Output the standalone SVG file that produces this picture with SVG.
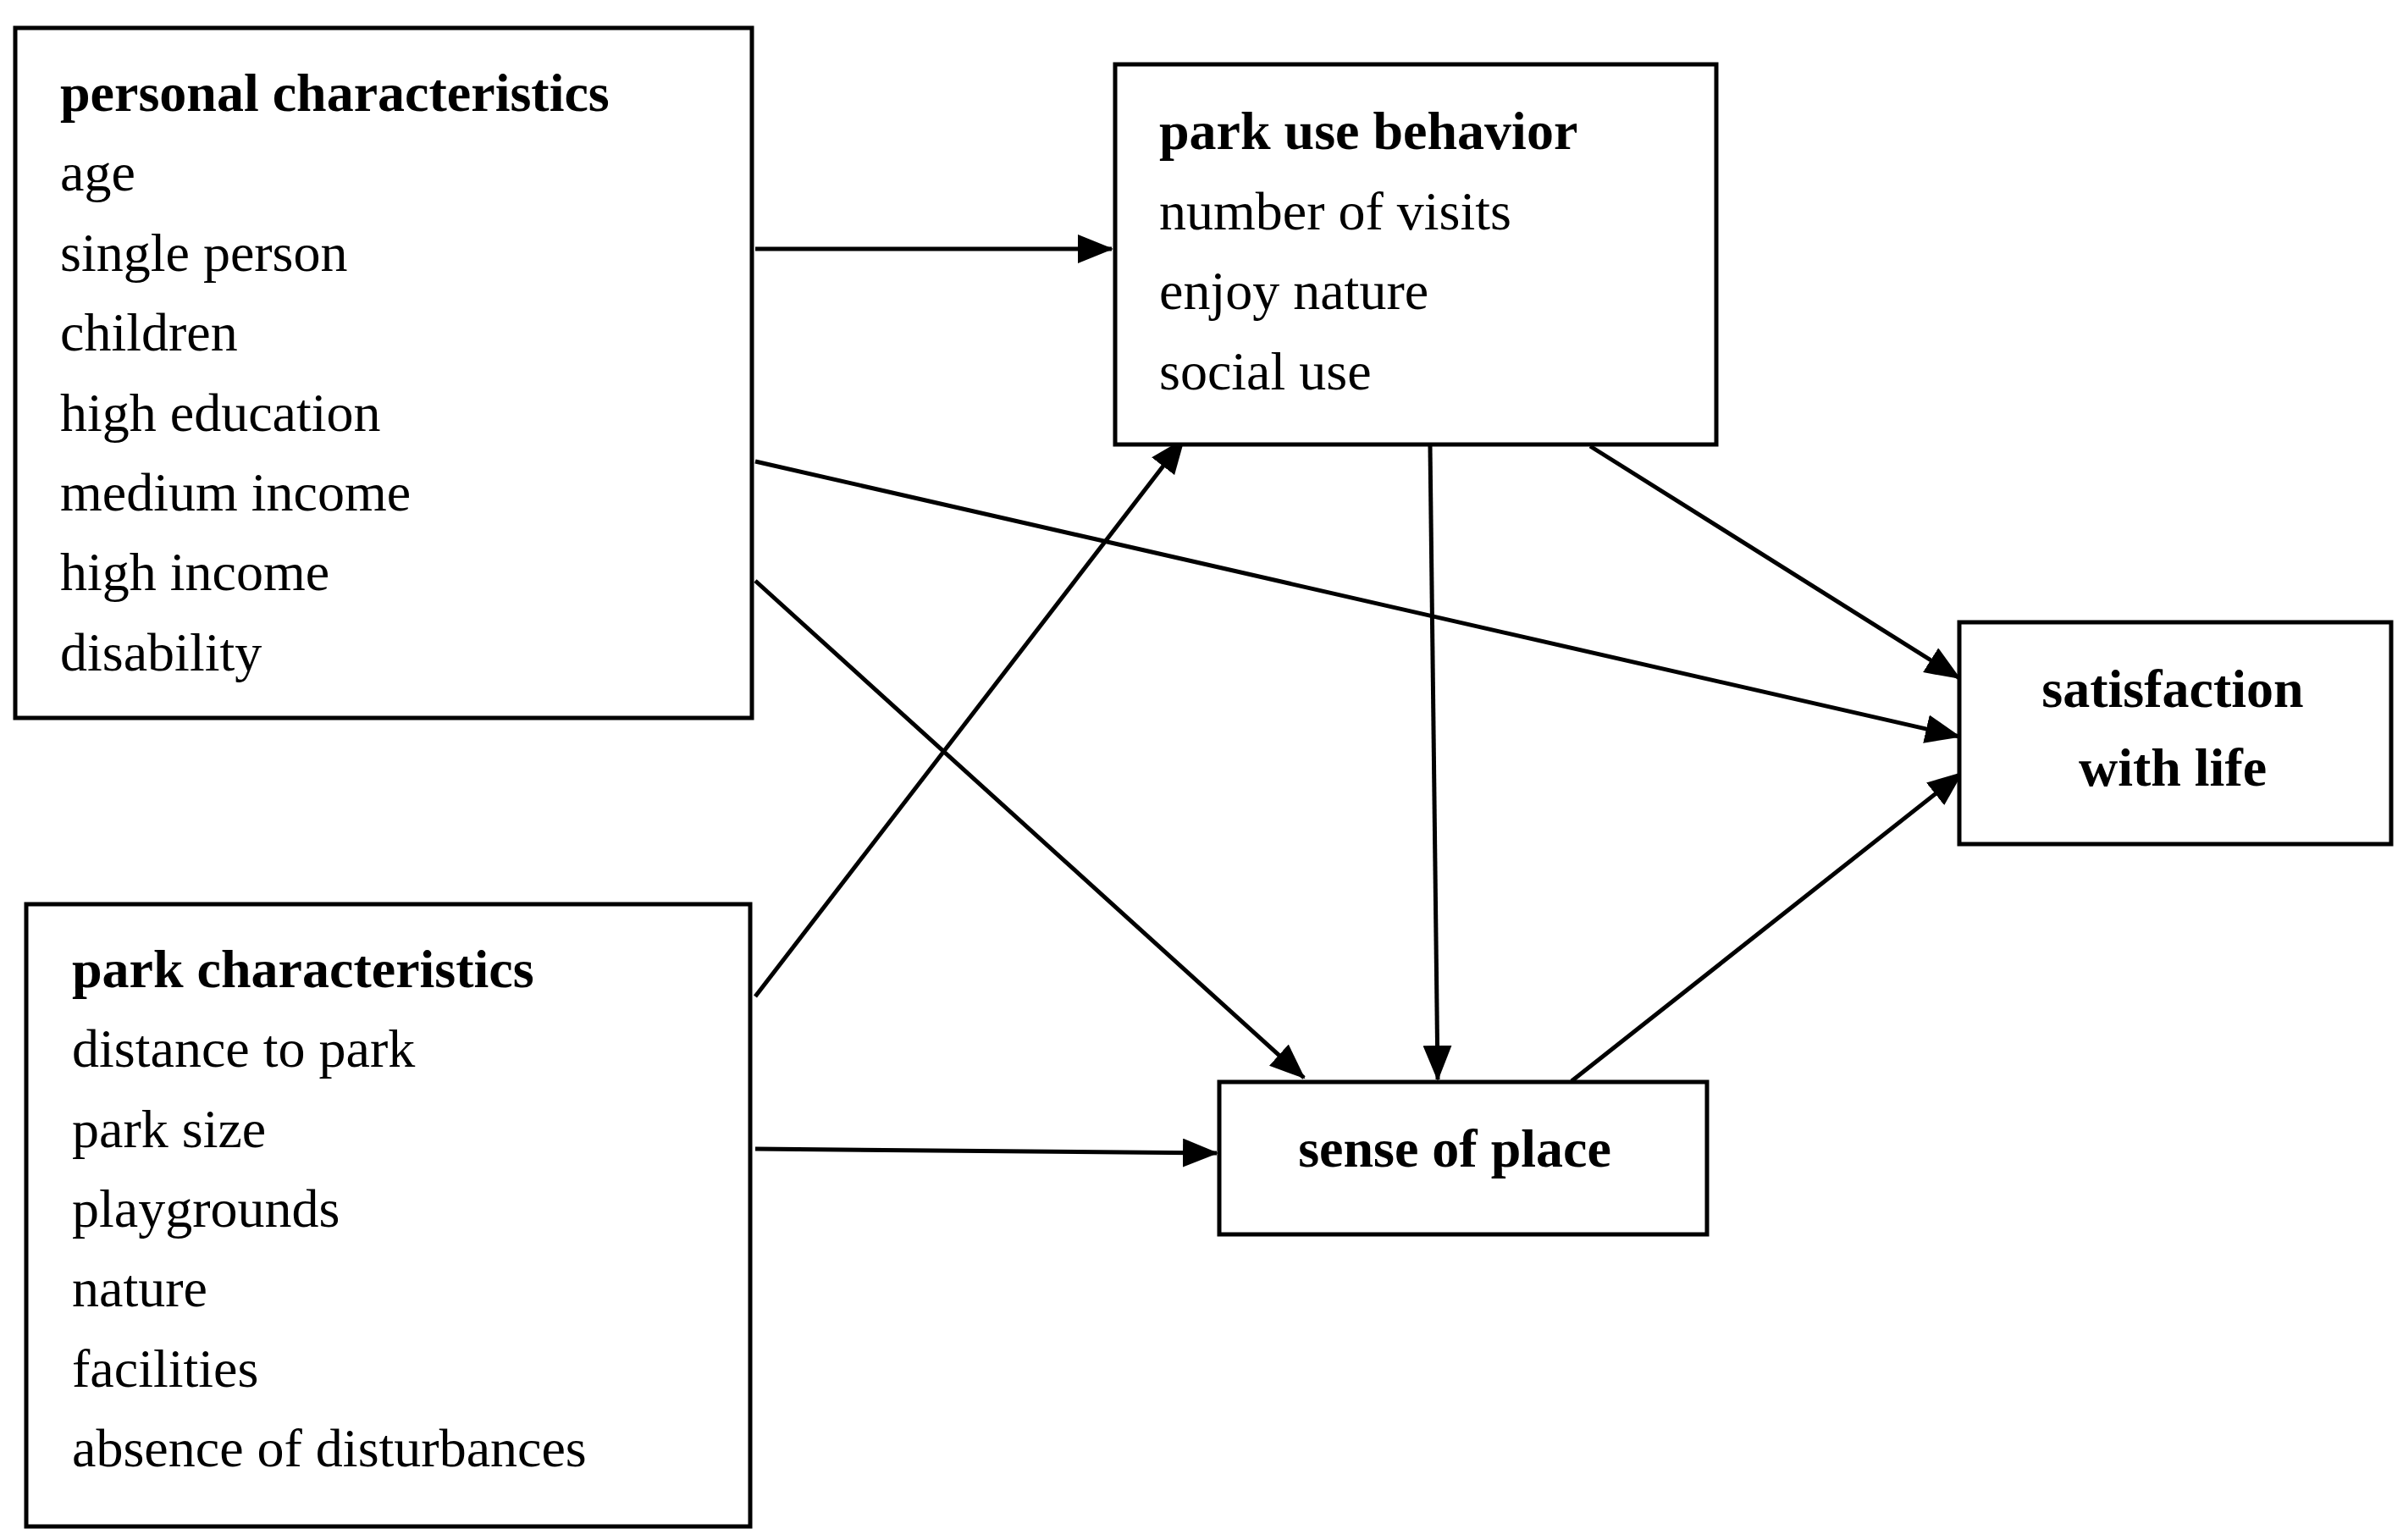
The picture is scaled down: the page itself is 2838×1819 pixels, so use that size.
<svg xmlns="http://www.w3.org/2000/svg" width="2838" height="1819" viewBox="0 0 2838 1819">
<style>
rect{fill:#fff;stroke:#000;stroke-width:5}
text{font-family:"Liberation Serif","DejaVu Serif",serif;font-size:64px;fill:#000}
.b{font-weight:bold}
.c{text-anchor:middle}
line{stroke:#000;stroke-width:5;marker-end:url(#a)}
</style>
<defs><marker id="a" markerUnits="userSpaceOnUse" markerWidth="44" markerHeight="34" refX="40" refY="17" orient="auto"><path d="M0,0 L42,17 L0,34 Z" fill="#000"/></marker></defs>
<rect width="2838" height="1819" style="stroke:none"/>
<g id="connectors">
<line x1="892" y1="294" x2="1313" y2="294"/>
<line x1="892" y1="545" x2="2314" y2="870"/>
<line x1="892" y1="686" x2="1540" y2="1273"/>
<line x1="892" y1="1177" x2="1398" y2="519"/>
<line x1="892" y1="1357" x2="1437" y2="1362"/>
<line x1="1689" y1="527" x2="1698" y2="1275"/>
<line x1="1878" y1="527" x2="2314" y2="801"/>
<line x1="1856" y1="1277" x2="2317" y2="913"/>
</g>
<g id="personal">
<rect x="18" y="33" width="870" height="815"/>
<text x="71" y="131" class="b">personal characteristics</text>
<text x="71" y="225">age</text>
<text x="71" y="320">single person</text>
<text x="71" y="414">children</text>
<text x="71" y="509">high education</text>
<text x="71" y="603">medium income</text>
<text x="71" y="697">high income</text>
<text x="71" y="792">disability</text>
</g>
<g id="parkuse">
<rect x="1317" y="76" width="710" height="449"/>
<text x="1369" y="176" class="b">park use behavior</text>
<text x="1369" y="271">number of visits</text>
<text x="1369" y="365">enjoy nature</text>
<text x="1369" y="460">social use</text>
</g>
<g id="satisfaction">
<rect x="2314" y="735" width="510" height="262"/>
<text x="2566" y="835" class="b c">satisfaction</text>
<text x="2566" y="928" class="b c">with life</text>
</g>
<g id="parkchar">
<rect x="31" y="1068" width="855" height="735"/>
<text x="85" y="1166" class="b">park characteristics</text>
<text x="85" y="1260">distance to park</text>
<text x="85" y="1355">park size</text>
<text x="85" y="1449">playgrounds</text>
<text x="85" y="1543">nature</text>
<text x="85" y="1638">facilities</text>
<text x="85" y="1732">absence of disturbances</text>
</g>
<g id="sense">
<rect x="1440" y="1278" width="576" height="180"/>
<text x="1718" y="1378" class="b c">sense of place</text>
</g>
</svg>
